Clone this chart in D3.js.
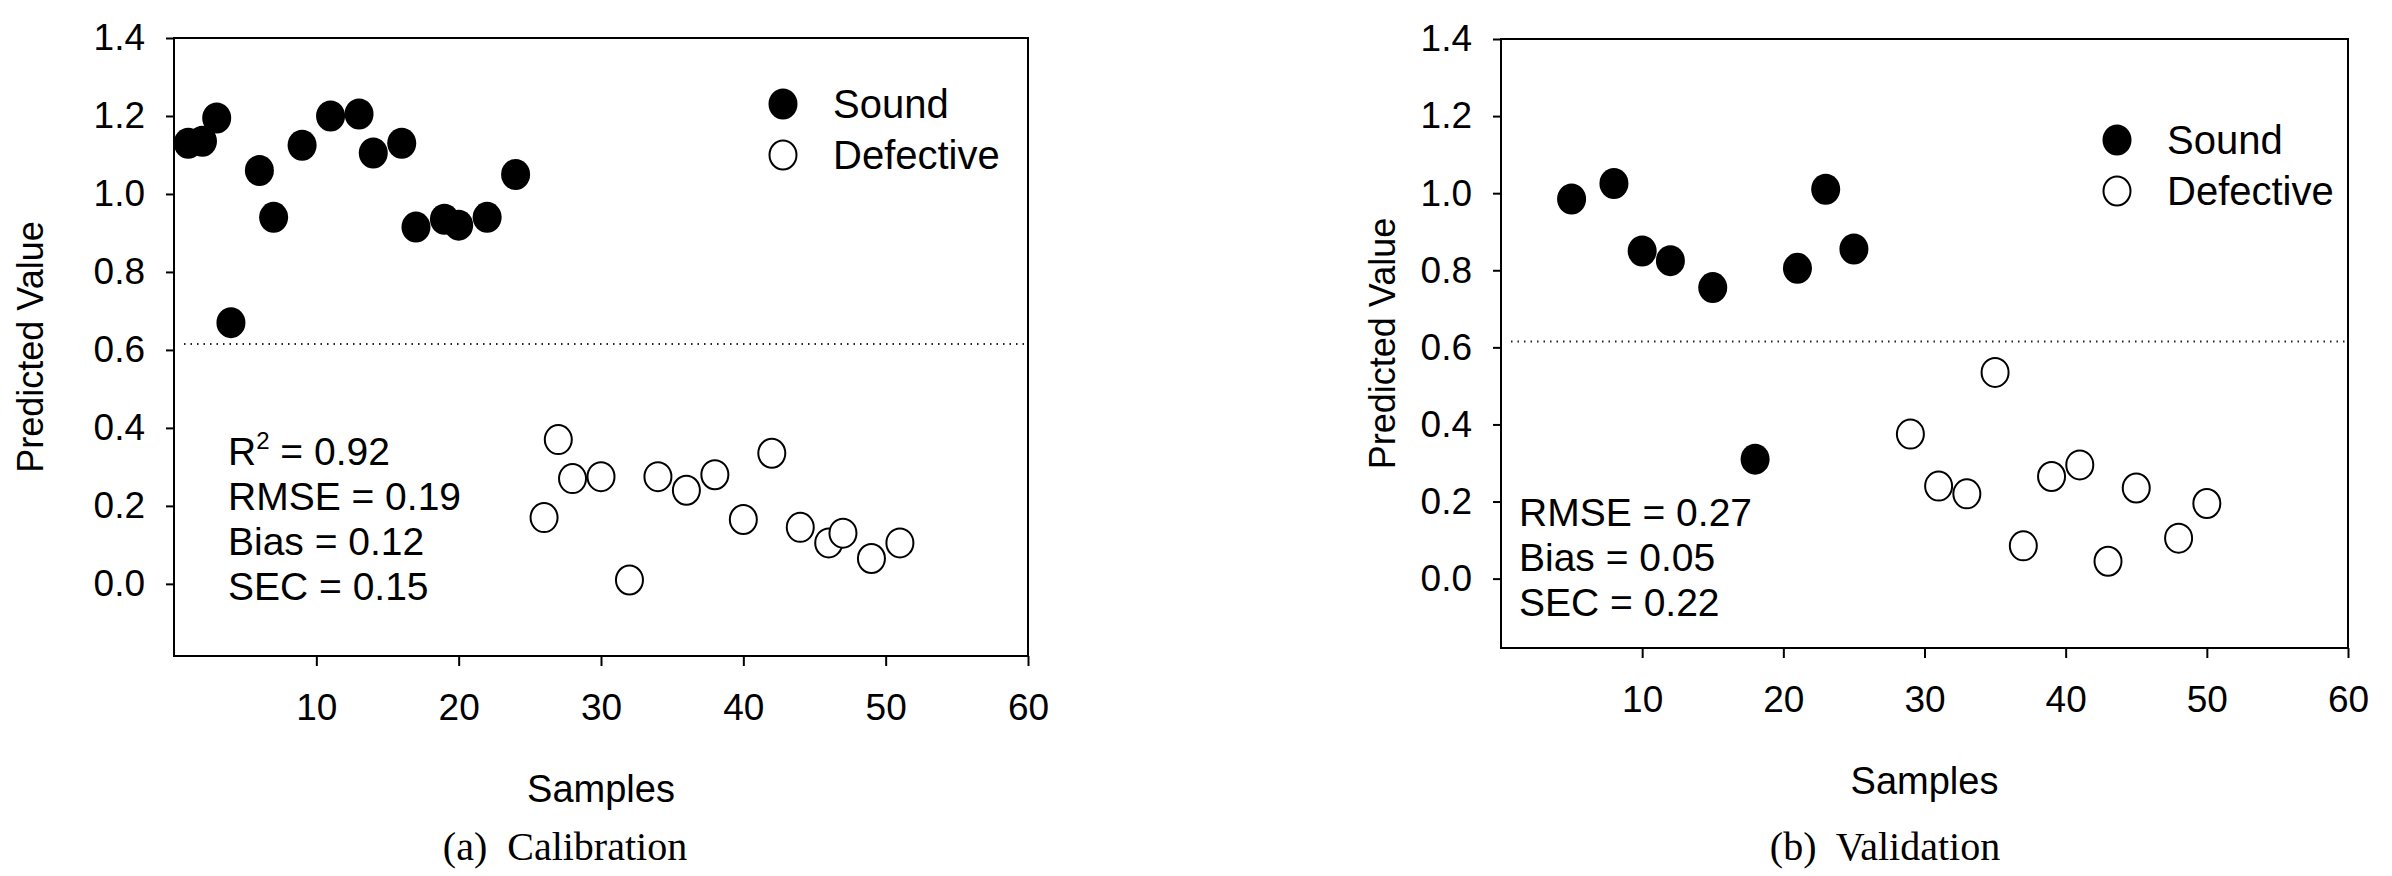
<!DOCTYPE html>
<html>
<head>
<meta charset="utf-8">
<script src="https://cdn.jsdelivr.net/npm/d3@7"></script>
<style>
  body { margin: 0; background: #fff; }
  svg { display: block; }
  .tick text { font-family: "Liberation Sans", Arial, sans-serif; }
</style>
</head>
<body>
<div id="chart"></div>
<script>
// Calibration set
const calSoundX = [1, 2, 3, 4, 6, 7, 9, 11, 13, 14, 16, 17, 19, 20, 22, 24];
const calSoundY = [1.13, 1.135, 1.195, 0.67, 1.06, 0.94, 1.125, 1.2, 1.205, 1.105, 1.13, 0.915, 0.935, 0.92, 0.94, 1.05];
const calDefX = [26, 27, 28, 30, 32, 34, 36, 38, 40, 42, 44, 46, 47, 49, 51];
const calDefY = [0.17, 0.37, 0.27, 0.275, 0.01, 0.275, 0.24, 0.28, 0.165, 0.335, 0.145, 0.105, 0.13, 0.065, 0.105];

// Validation set
const valSoundX = [5, 8, 10, 12, 15, 18, 21, 23, 25];
const valSoundY = [0.985, 1.025, 0.85, 0.825, 0.755, 0.31, 0.805, 1.01, 0.855];
const valDefX = [29, 31, 33, 35, 37, 39, 41, 43, 45, 48, 50];
const valDefY = [0.375, 0.24, 0.22, 0.535, 0.085, 0.265, 0.295, 0.045, 0.235, 0.105, 0.195];

const threshold = 0.615;
const xTicks = [10, 20, 30, 40, 50, 60];
const yTicks = [0, 0.2, 0.4, 0.6, 0.8, 1.0, 1.2, 1.4];
const legendLabels = ["Sound", "Defective"];
const calStats = ["R2 = 0.92", "RMSE = 0.19", "Bias = 0.12", "SEC = 0.15"];
const valStats = ["RMSE = 0.27", "Bias = 0.05", "SEC = 0.22"];

const sans = '"Liberation Sans", Arial, sans-serif';
const serif = '"Liberation Serif", "Times New Roman", serif';

const svg = d3.select("#chart").append("svg")
    .attr("width", 2392)
    .attr("height", 876);

const panels = [
    { left: 174, right: 1028, top: 38, bottom: 656, yMin: -0.185,
      sx: calSoundX, sy: calSoundY, dx: calDefX, dy: calDefY, stats: calStats,
      statX: 228, statY: 465, legX: 783, legY: 104, titleX: 30, caption: "(a)  Calibration", capX: 565 },
    { left: 1501, right: 2348, top: 39, bottom: 648, yMin: -0.18,
      sx: valSoundX, sy: valSoundY, dx: valDefX, dy: valDefY, stats: valStats,
      statX: 1519, statY: 526, legX: 2117, legY: 140, titleX: 1382, caption: "(b)  Validation", capX: 1885 }
];

panels.forEach(p => {
    const x = d3.scaleLinear().domain([0, 60]).range([p.left, p.right]);
    const y = d3.scaleLinear().domain([p.yMin, 1.4]).range([p.bottom, p.top]);

    // Axes
    const ya = svg.append("g")
        .attr("transform", `translate(${p.left},0)`)
        .call(d3.axisLeft(y).tickValues(yTicks).tickFormat(d3.format(".1f")).tickSize(8).tickPadding(21));
    const xa = svg.append("g")
        .attr("transform", `translate(0,${p.bottom})`)
        .call(d3.axisBottom(x).tickValues(xTicks).tickSize(10).tickPadding(28));
    [ya, xa].forEach(a => {
        a.select(".domain").remove();
        a.selectAll(".tick line").attr("stroke", "#000").attr("stroke-width", 2);
        a.selectAll(".tick text").style("font-size", "37px").attr("fill", "#000");
    });

    // Frame
    svg.append("rect")
        .attr("x", p.left).attr("y", p.top)
        .attr("width", p.right - p.left).attr("height", p.bottom - p.top)
        .attr("fill", "none").attr("stroke", "#000").attr("stroke-width", 2);

    // Threshold line
    svg.append("line")
        .attr("x1", p.left + 10).attr("x2", p.right)
        .attr("y1", y(threshold)).attr("y2", y(threshold))
        .attr("stroke", "#222").attr("stroke-width", 2)
        .attr("stroke-dasharray", "1.5,5");

    // Points
    svg.append("g").selectAll("ellipse")
        .data(p.sx.map((v, i) => [v, p.sy[i]]))
        .enter().append("ellipse")
        .attr("cx", d => x(d[0])).attr("cy", d => y(d[1]))
        .attr("rx", 14.5).attr("ry", 15.5).attr("fill", "#000");
    svg.append("g").selectAll("ellipse")
        .data(p.dx.map((v, i) => [v, p.dy[i]]))
        .enter().append("ellipse")
        .attr("cx", d => x(d[0])).attr("cy", d => y(d[1]))
        .attr("rx", 13.5).attr("ry", 14.5)
        .attr("fill", "#fff").attr("stroke", "#000").attr("stroke-width", 2);

    // Legend
    legendLabels.forEach((lab, i) => {
        const cy = p.legY + i * 51;
        svg.append("ellipse")
            .attr("cx", p.legX).attr("cy", cy)
            .attr("rx", i === 0 ? 14.5 : 13.5).attr("ry", i === 0 ? 15.5 : 14.5)
            .attr("fill", i === 0 ? "#000" : "#fff")
            .attr("stroke", "#000").attr("stroke-width", i === 0 ? 0 : 2);
        svg.append("text")
            .attr("x", p.legX + 50).attr("y", cy + 14)
            .style("font-family", sans).style("font-size", "40px")
            .text(lab);
    });

    // Stats
    p.stats.forEach((s, i) => {
        const t = svg.append("text")
            .attr("x", p.statX).attr("y", p.statY + i * 45)
            .style("font-family", sans).style("font-size", "39px");
        if (s.startsWith("R2")) {
            t.append("tspan").text("R");
            t.append("tspan").attr("dy", -16).style("font-size", "24px").text("2");
            t.append("tspan").attr("dy", 16).text(s.slice(2));
        } else {
            t.text(s);
        }
    });

    // Axis titles
    svg.append("text")
        .attr("transform", `translate(${p.titleX},${(p.top + p.bottom) / 2}) rotate(-90)`)
        .attr("text-anchor", "middle").attr("dy", "0.35em")
        .style("font-family", sans).style("font-size", "36px")
        .text("Predicted Value");
    svg.append("text")
        .attr("x", (p.left + p.right) / 2).attr("y", p.bottom + 146)
        .attr("text-anchor", "middle")
        .style("font-family", sans).style("font-size", "38px")
        .text("Samples");

    // Caption
    svg.append("text")
        .attr("x", p.capX).attr("y", 860)
        .attr("text-anchor", "middle")
        .style("font-family", serif).style("font-size", "40px")
        .style("white-space", "pre")
        .text(p.caption);
});
</script>
</body>
</html>
